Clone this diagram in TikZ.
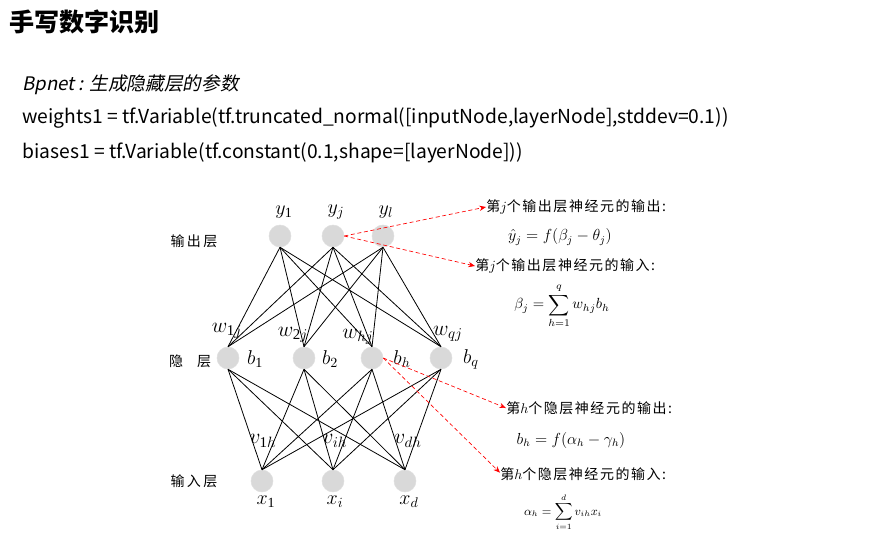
\RequirePackage{fix-cm}
\documentclass[tikz,border=0pt]{standalone}
\usepackage{amsmath}
\usepackage{fontspec}
\setmainfont{Liberation Serif}
\newfontfamily\cjk{Noto Sans CJK SC}
\newfontfamily\cjknote[LetterSpace=11]{Noto Sans CJK SC}
\newfontfamily\cjkslant[FakeSlant=0.2]{Noto Sans CJK SC}
\usetikzlibrary{arrows.meta,positioning}

\begin{document}
\begin{tikzpicture}[x=0.75pt, y=-0.75pt,
  neuron/.style={circle, fill=gray!30, draw=gray!25, minimum size=16.5pt, inner sep=0pt},
  lbl/.style={inner sep=1pt, font=\fontsize{15}{17}\selectfont},
  wlbl/.style={inner sep=1pt, font=\fontsize{16}{18}\selectfont},
  layer/.style={inner sep=1pt, font=\cjk\fontsize{10.5}{12}\selectfont},
  note/.style={inner sep=0pt, anchor=west, font=\cjknote\fontsize{10.5}{12}\selectfont},
  code/.style={inner sep=0pt, anchor=west, font=\cjk\fontsize{14.45}{16}\selectfont},
  link/.style={black, line width=0.6pt},
  pointer/.style={red, densely dashed, line width=0.5pt, -{Stealth[length=5pt, width=4pt]}}]

	\useasboundingbox (0,0) rectangle (888,535);

	% Title and code
	\node[code, font=\cjk\bfseries\fontsize{18.8}{20}\selectfont] (title) at (9,22) {手写数字识别};
	\node[code, font=\cjkslant\fontsize{14}{16}\selectfont] (head) at (22,85) {Bpnet : 生成隐藏层的参数};
	\node[code] (line1) at (22,118) {weights1 = tf.Variable(tf.truncated\_normal([inputNode,layerNode],stddev=0.1))};
	\node[code] (line2) at (22,153) {biases1 = tf.Variable(tf.constant(0.1,shape=[layerNode]))};

	% Nodes
	\node[neuron] (y1) at (280,236) {};
	\node[neuron] (yj) at (333,236) {};
	\node[neuron] (yl) at (383,236) {};

	\node[neuron] (b1) at (228,358) {};
	\node[neuron] (b2) at (304,358) {};
	\node[neuron] (bh) at (372,358) {};
	\node[neuron] (bq) at (441,358) {};

	\node[neuron] (x1) at (262,481) {};
	\node[neuron] (xi) at (333,481) {};
	\node[neuron] (xd) at (405,481) {};

	% Layer names
	\node[layer] (outname) at (194,241) {输\,出\,层};
	\node[layer] (hidname) at (190,361) {隐\quad 层};
	\node[layer] (inname) at (194,481) {输\,入\,层};

	% Node labels
	\node[lbl] at (284,212) {$y_{\mathrm{1}}$};
	\node[lbl] at (336,212) {$y_j$};
	\node[lbl] at (386,212) {$y_l$};
	\node[lbl] at (255,359) {$b_{\mathrm{1}}$};
	\node[lbl] at (330,359) {$b_2$};
	\node[lbl] at (402,359) {$b_h$};
	\node[lbl] at (471,359) {$b_q$};
	\node[lbl] at (266,502) {$x_{\mathrm{1}}$};
	\node[lbl] at (335,502) {$x_i$};
	\node[lbl] at (409,502) {$x_d$};

	% Connections
	\foreach \o in {y1,yj,yl}
		\foreach \h in {b1,b2,bh,bq}
			\draw[link] (\o.south) -- (\h.north);
	\foreach \h in {b1,b2,bh,bq}
		\foreach \i in {x1,xi,xd}
			\draw[link] (\h.south) -- (\i.north);

	% Weight labels
	\node[wlbl] at (227,331) {$w_{\mathrm{1}j}$};
	\node[wlbl] at (293,335) {$w_{\mathrm{2}j}$};
	\node[wlbl] at (358,337) {$w_{hj}$};
	\node[wlbl] at (448,334) {$w_{qj}$};
	\node[wlbl] at (263,441) {$v_{\mathrm{1}h}$};
	\node[wlbl] at (335,441) {$v_{ih}$};
	\node[wlbl] at (408,441) {$v_{dh}$};

	% Notes
	\node[note] (jout) at (486,207) {第$j$个输出层神经元的输出:};
	\node[lbl, font=\fontsize{12}{14}\selectfont] (jouteq) at (560,237) {$\hat{y}_j = f(\beta_j - \theta_j)$};
	\node[note] (jin) at (475,266) {第$j$个输出层神经元的输入:};
	\node[lbl, inner sep=0pt, font=\fontsize{11}{13}\selectfont] (jineq) at (562,306) {$\displaystyle \beta_j = \sum_{h=1}^{q} w_{hj} b_h$};
	\node[note] (hout) at (506,408) {第$h$个隐层神经元的输出:};
	\node[lbl, font=\fontsize{12}{14}\selectfont] (houteq) at (571,440) {$b_h = f(\alpha_h - \gamma_h)$};
	\node[note] (hin) at (500,474) {第$h$个隐层神经元的输入:};
	\node[lbl, inner sep=0pt, font=\fontsize{9}{11}\selectfont] (hineq) at (563,512) {$\displaystyle \alpha_h = \sum_{i=1}^{d} v_{ih} x_i$};

	% Pointers
	\draw[pointer] (yj.east) -- (jout.west);
	\draw[pointer] (yj.east) -- (jin.west);
	\draw[pointer] (bh.east) -- (hout.west);
	\draw[pointer] (bh.east) -- ([yshift=1pt]hin.west);

\end{tikzpicture}
\end{document}
